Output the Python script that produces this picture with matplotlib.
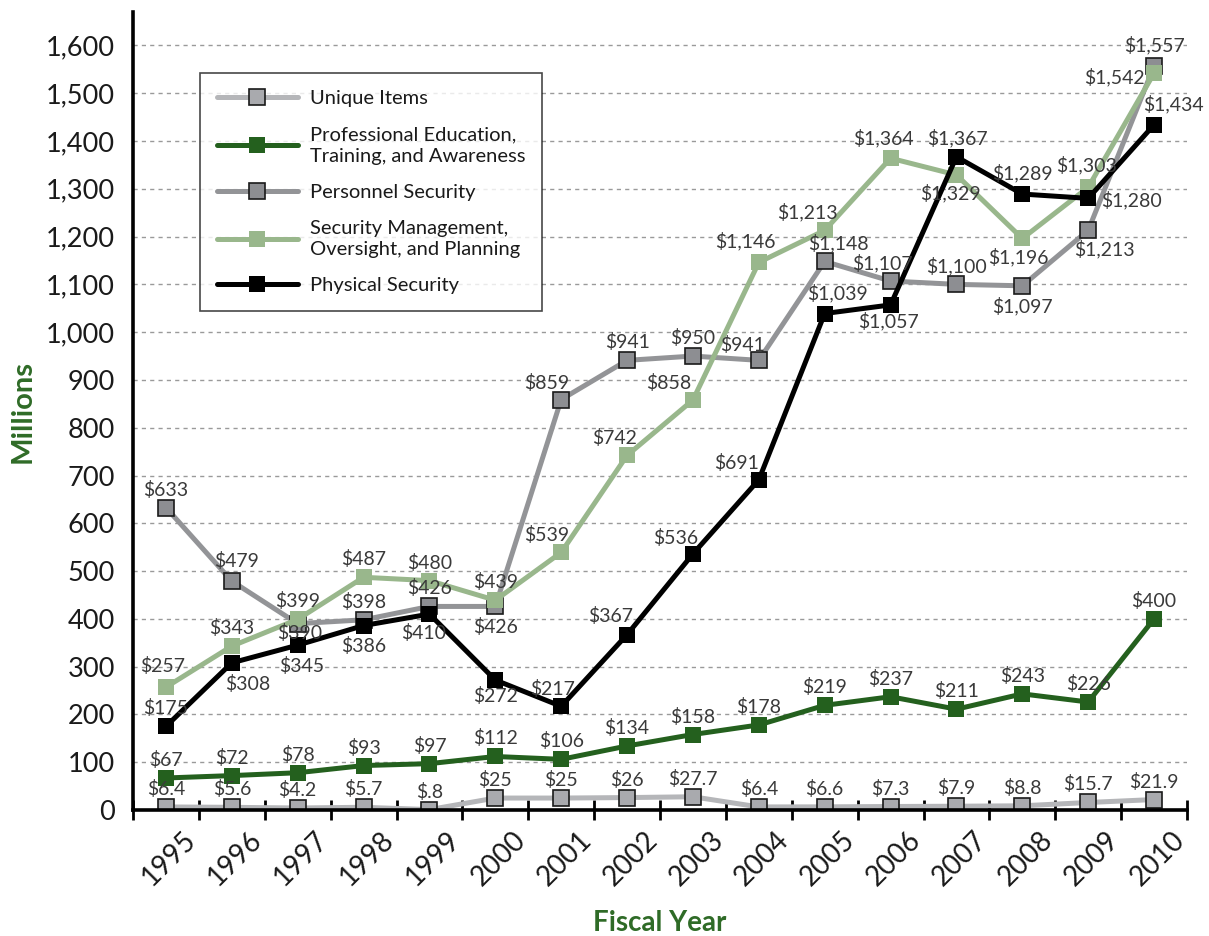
import numpy as np
import matplotlib
matplotlib.use('Agg')
import matplotlib.pyplot as plt
from matplotlib.ticker import FuncFormatter
import matplotlib.transforms as mtrans

plt.rcParams['font.family'] = ['Lato', 'DejaVu Sans']

# data (millions of dollars)
years = list(range(1995, 2011))

unique_items = [6.4, 5.6, 4.2, 5.7, 0.8, 25, 25, 26, 27.7, 6.4, 6.6, 7.3, 7.9, 8.8, 15.7, 21.9]
prof_education = [67, 72, 78, 93, 97, 112, 106, 134, 158, 178, 219, 237, 211, 243, 226, 400]
personnel_security = [633, 479, 390, 398, 426, 426, 859, 941, 950, 941, 1148, 1107, 1100, 1097, 1213, 1557]
security_mgmt = [257, 343, 399, 487, 480, 439, 539, 742, 858, 1146, 1213, 1364, 1329, 1196, 1303, 1542]
physical_security = [175, 308, 345, 386, 410, 272, 217, 367, 536, 691, 1039, 1057, 1367, 1289, 1280, 1434]

series_names = ['Unique Items',
                'Professional Education,\nTraining, and Awareness',
                'Personnel Security',
                'Security Management,\nOversight, and Planning',
                'Physical Security']

# label offsets in pixels (dx, dy), default is straight above
above = (0, 18)
personnel_offsets = {1996: (5, 20), 1997: (2, -9), 2000: (0, -21), 2001: (-15, 17),
                     2004: (-16, 15), 2005: (14, 18), 2006: (-8, 18), 2008: (0, -20),
                     2009: (16, -19), 2010: (0, 21)}
mgmt_offsets = {1995: (-3, 21), 2001: (-15, 17), 2002: (-13, 17), 2003: (-24, 17),
                2004: (-13, 21), 2005: (-17, 18), 2006: (-7, 20), 2007: (-6, -18),
                2008: (-4, -19), 2009: (-2, 22), 2010: (-40, -4)}
physical_offsets = {1996: (16, -21), 1997: (4, -21), 1998: (0, -20), 1999: (-6, -19),
                    2000: (0, -16), 2001: (-9, 17), 2002: (-16, 19), 2003: (-17, 16),
                    2004: (-22, 17), 2005: (13, 20), 2006: (-2, -16), 2007: (1, 19),
                    2008: (0, 21), 2009: (43, -2), 2010: (19, 21)}


def fmt_money(v):
    s = f'{v:,g}'
    if s.startswith('0.'):
        s = s[1:]
    return '$' + s


fig = plt.figure(figsize=(12.09, 9.36), dpi=100)
ax = fig.add_axes([133 / 1209, 1 - 810 / 936, (1187 - 133) / 1209, (810 - 12) / 936])

lw = 3.6
ms = 12
styles = [
    dict(color='#b5b6b9', mfc='#a9aaae', mec='#1a1a1a', mew=1.2),
    dict(color='#24601e', mfc='#24601e', mec='#24601e', mew=0),
    dict(color='#939497', mfc='#8d8e92', mec='#1a1a1a', mew=1.2),
    dict(color='#99b78c', mfc='#99b78c', mec='#99b78c', mew=0),
    dict(color='#000000', mfc='#000000', mec='#000000', mew=0),
]
all_series = [unique_items, prof_education, personnel_security, security_mgmt, physical_security]
all_offsets = [{}, {}, personnel_offsets, mgmt_offsets, physical_offsets]

for vals, name, st in zip(all_series, series_names, styles):
    ax.plot(years, vals, marker='s', lw=lw, ms=ms, label=name, zorder=3,
            solid_capstyle='round', **st)

for vals, offs in zip(all_series, all_offsets):
    for yr, v in zip(years, vals):
        dx, dy = offs.get(yr, above)
        ax.annotate(fmt_money(v), (yr, v), xytext=(dx * 0.72, dy * 0.72),
                    textcoords='offset points', ha='center', va='center',
                    fontsize=14, color='#3a3a3a', zorder=5)

ax.set_xlim(1994.5, 2010.5)
ax.set_ylim(0, 1670)

ax.set_yticks(range(0, 1700, 100))
ax.yaxis.set_major_formatter(FuncFormatter(lambda v, p: f'{int(v):,}'))
ax.tick_params(axis='y', length=0, pad=13, labelsize=19.5, labelcolor='#1a1a1a')
ax.grid(axis='y', color='#9a9a9a', linestyle=(0, (3, 3)), lw=1, zorder=0)

ax.set_xticks(years)
ax.set_xticklabels([str(y) for y in years], rotation=45, ha='right',
                   rotation_mode='anchor', fontsize=20, color='#1a1a1a')
ax.tick_params(axis='x', which='major', length=0, pad=12)
ax.set_xticks(np.arange(1994.5, 2011, 1), minor=True)
ax.tick_params(axis='x', which='minor', direction='inout', length=14.4, width=2, color='black')
shift = mtrans.ScaledTranslation(17 / 100, 0, fig.dpi_scale_trans)
for lab in ax.get_xticklabels():
    lab.set_transform(lab.get_transform() + shift)

for side in ['top', 'right']:
    ax.spines[side].set_visible(False)
ax.spines['left'].set_linewidth(2.6)
ax.spines['bottom'].set_linewidth(2.6)
ax.spines['left'].set_zorder(4)
ax.spines['bottom'].set_zorder(4)

ax.set_ylabel('Millions', fontsize=21, fontweight='bold', color='#2f6b27')
ax.yaxis.set_label_coords(-0.092, 0.5)
ax.set_xlabel('Fiscal Year', fontsize=20, fontweight='bold', color='#2f6b27')
ax.xaxis.set_label_coords(0.5, -0.125)

leg = ax.legend(loc='upper left', bbox_to_anchor=(200 / 1209, 1 - 73 / 936),
                bbox_transform=fig.transFigure, fontsize=14.5, handlelength=4.0,
                frameon=True, fancybox=False, edgecolor='#1a1a1a',
                borderpad=0.85, labelspacing=0.95, handletextpad=0.6, borderaxespad=0)
leg.get_frame().set_linewidth(1.2)
for t in leg.get_texts():
    t.set_color('#1a1a1a')
    t.set_linespacing(1.3)
leg.set_zorder(6)

fig.savefig('out.png', dpi=100)
